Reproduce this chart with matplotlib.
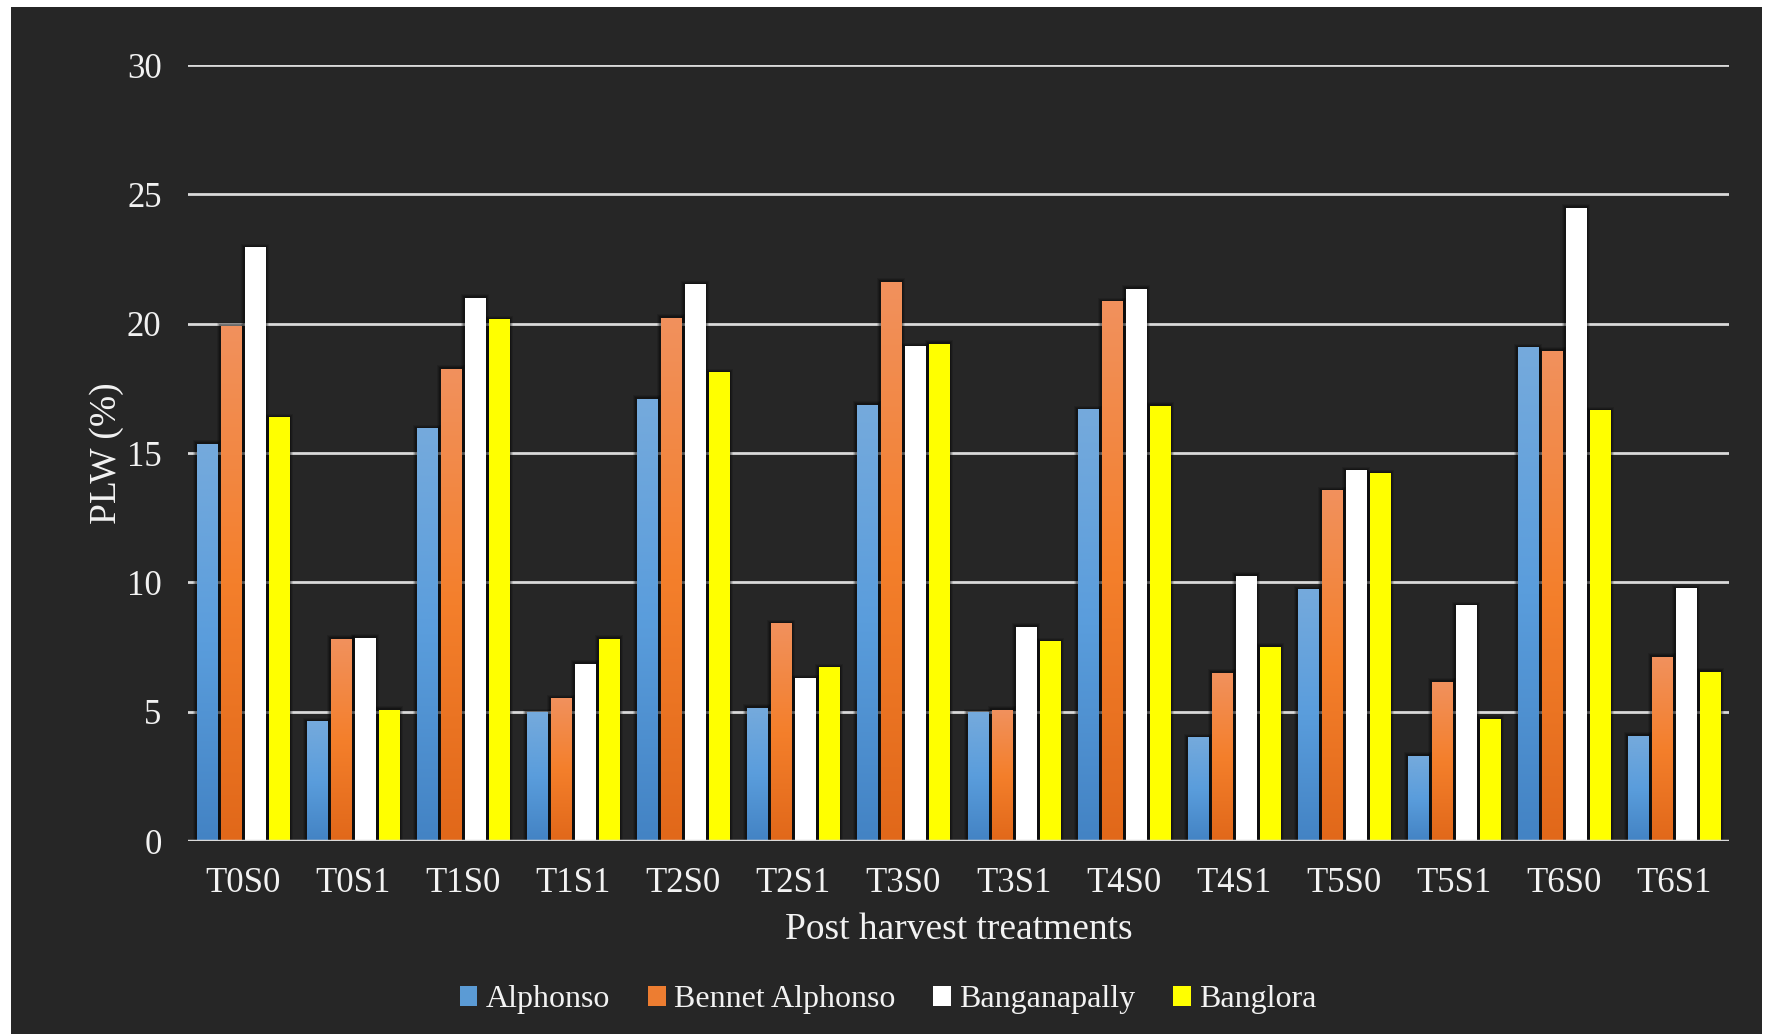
import numpy as np
import matplotlib
matplotlib.use("Agg")
import matplotlib.pyplot as plt
from matplotlib.colors import LinearSegmentedColormap
from matplotlib.patches import Rectangle, Patch

plt.rcParams["font.family"] = ["Liberation Serif", "DejaVu Serif"]

# PLW (%) per treatment and variety
treatments = ["T0S0", "T0S1", "T1S0", "T1S1", "T2S0", "T2S1", "T3S0",
              "T3S1", "T4S0", "T4S1", "T5S0", "T5S1", "T6S0", "T6S1"]
alphonso = [15.33, 4.61, 15.93, 4.96, 17.07, 5.14, 16.85,
            4.96, 16.67, 4.00, 9.71, 3.27, 19.07, 4.05]
bennet_alphonso = [19.90, 7.79, 18.24, 5.49, 20.20, 8.40, 21.60,
                   5.05, 20.85, 6.49, 13.54, 6.14, 18.94, 7.10]
banganapally = [22.94, 7.84, 20.98, 6.84, 21.50, 6.27, 19.10,
                8.27, 21.33, 10.23, 14.32, 9.10, 24.47, 9.75]
banglora = [16.37, 5.05, 20.16, 7.79, 18.10, 6.70, 19.20,
            7.70, 16.80, 7.49, 14.19, 4.70, 16.63, 6.53]

series = [
    ("Alphonso", alphonso, ["#75aadc", "#5a9ddc", "#4383c4"], "#5b9bd5"),
    ("Bennet Alphonso", bennet_alphonso, ["#f1915d", "#f47f2b", "#e1681a"], "#ed7d31"),
    ("Banganapally", banganapally, ["#ffffff", "#ffffff", "#ffffff"], "#ffffff"),
    ("Banglora", banglora, ["#ffff00", "#ffff00", "#ffff00"], "#ffff00"),
]

BG = "#262626"
TXT = "#f2f2f2"
GRID = "#d9d9d9"

W, H = 1769, 1034
fig = plt.figure(figsize=(W / 100, H / 100), dpi=100, facecolor="white")
# dark chart area
fig.patches.append(Rectangle((11 / W, 0), (1762 - 11) / W, (H - 7) / H,
                             transform=fig.transFigure, facecolor=BG,
                             edgecolor="none", zorder=-1))

ax = fig.add_axes([188 / W, (H - 841) / H, (1729 - 188) / W, (841 - 65) / H])
ax.set_zorder(1)
ax.set_facecolor("none")

x = np.arange(len(treatments))
bw, step = 0.182, 0.218
px_x = 1 / 110.0          # one pixel in x data units
px_y = 30 / 776.0         # one pixel in y data units

grad = np.linspace(0, 1, 256).reshape(-1, 1)
for i, (name, vals, stops, _) in enumerate(series):
    cmap = LinearSegmentedColormap.from_list(name, stops)
    offset = (i - 1.5) * step
    for xi, v in zip(x, vals):
        x0 = xi + offset - bw / 2
        # soft shadow behind each bar
        for d, a in [(4, 0.12), (3, 0.18), (2, 0.25)]:
            ax.add_patch(Rectangle((x0 - d * px_x, 0), bw + 2 * d * px_x,
                                   v + d * px_y, facecolor="black",
                                   edgecolor="none", alpha=a, zorder=1.5))
        ax.imshow(grad, cmap=cmap, extent=(x0, x0 + bw, 0, v), origin="upper",
                  aspect="auto", interpolation="bilinear", zorder=2)

ax.set_xlim(-0.5, len(treatments) - 0.5)
ax.set_ylim(0, 30)
ax.set_yticks(range(0, 31, 5))
ax.set_xticks(x)
ax.set_xticklabels(treatments)
ax.yaxis.grid(True, color=GRID, linewidth=2)
ax.set_axisbelow(True)
for s in ax.spines.values():
    s.set_visible(False)
ax.axhline(0, color=GRID, linewidth=2.5, zorder=3)
ax.tick_params(axis="both", length=0, colors=TXT, labelsize=25)
ax.tick_params(axis="y", pad=19)
ax.tick_params(axis="x", pad=19)

ax.set_xlabel("Post harvest treatments", fontsize=27, color=TXT, labelpad=9)
ax.set_ylabel("PLW (%)", fontsize=27, color=TXT, labelpad=2)

handles = [Patch(facecolor=c, edgecolor="none", label=n) for n, _, _, c in series]
fig.legend(handles=handles, loc="center", bbox_to_anchor=(0.502, 0.033),
           ncol=4, frameon=False, fontsize=23, labelcolor=TXT,
           handlelength=0.55, handleheight=0.55, handletextpad=0.25,
           columnspacing=1.2)

fig.savefig("out.png", dpi=100, facecolor="white")
